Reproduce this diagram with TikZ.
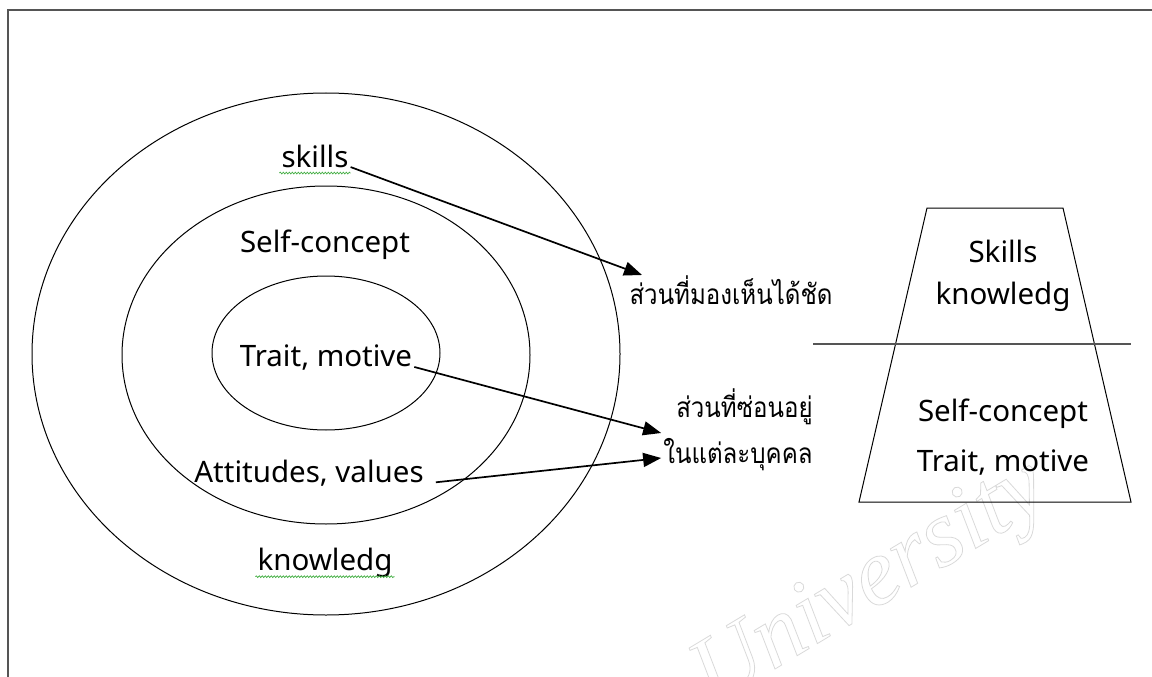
\documentclass[tikz,border=0pt]{standalone}
\usepackage{fontspec}
\usetikzlibrary{arrows.meta,positioning,decorations.pathmorphing}
\newfontfamily\thaifont[Script=Thai,FakeStretch=0.86]{Loma}
\newfontfamily\latinfont{Noto Sans}
\newfontfamily\markfont{Liberation Serif}
\definecolor{framegray}{RGB}{85,85,85}
\definecolor{spellgreen}{RGB}{70,175,70}

\begin{document}
\begin{tikzpicture}[x=1pt,y=-1pt,
	lbl/.style={font=\latinfont\fontsize{29.5}{42}\selectfont,inner sep=2pt,align=center},
	thlbl/.style={font=\thaifont\fontsize{28}{46}\selectfont,inner sep=2pt},
	ring/.style={draw,line width=1pt},
	pointer/.style={-{Triangle[length=18pt,width=14pt]},line width=1.7pt},
	spell/.style={spellgreen,line width=0.7pt,decorate,decoration={snake,amplitude=0.9pt,segment length=3pt}}]
	\useasboundingbox (0,0) rectangle (1152,677);
	\draw[framegray,line width=2pt] (8,677) -- (8,10) -- (1152,10);
	% watermark
	\node[rotate=31,text=gray!30,font=\markfont\itshape\fontsize{95}{100}\selectfont] (wm) at (872,586)
		{\special{pdf:literal direct 1 Tr 0.8 w}University\special{pdf:literal direct 0 Tr}};
	% rings
	\draw[ring] (326,354) ellipse [x radius=294,y radius=261];
	\draw[ring] (326,355) ellipse [x radius=204,y radius=169];
	\draw[ring] (326,353) ellipse [x radius=114,y radius=77];
	% trapezoid
	\draw[line width=1pt] (927,208) -- (1063,208) -- (1131,502) -- (859,502) -- cycle;
	\draw[framegray,line width=1.5pt] (813,344) -- (1131,344);
	\begin{scope}[every node/.style={lbl}]
		\node (sk) at (315,156) {skills};
		\node (sc) at (325,245) {Self-concept};
		\node (tm) at (326,358) {Trait, motive};
		\node (av) at (309,473) {Attitudes, values};
		\node (kn) at (325,563) {knowledg};
		\node (top) at (1003,276) {Skills\\knowledg};
		\node (bot) at (1003,437) {Self-concept\\[8pt]Trait, motive};
	\end{scope}
	\begin{scope}[every node/.style={thlbl}]
		\node (vis) at (731,290) {ส่วนที่มองเห็นได้ชัด};
		\node[align=right] (hid) at (738,430) {ส่วนที่ซ่อนอยู่\\ในแต่ละบุคคล};
	\end{scope}
	\draw[spell] ([yshift=-6pt]sk.base west) -- ([yshift=-6pt]sk.base east);
	\draw[spell] ([yshift=-6pt]kn.base west) -- ([yshift=-6pt]kn.base east);
	\begin{scope}[every edge/.style={draw,pointer}]
		\draw (sk.base east) edge ([shift={(-89,-15)}]vis.center);
		\draw (tm.base east) edge ([shift={(0,3)}]hid.west);
		\draw ([xshift=10pt]av.base east) edge ([shift={(0,28)}]hid.west);
	\end{scope}
\end{tikzpicture}
\end{document}
